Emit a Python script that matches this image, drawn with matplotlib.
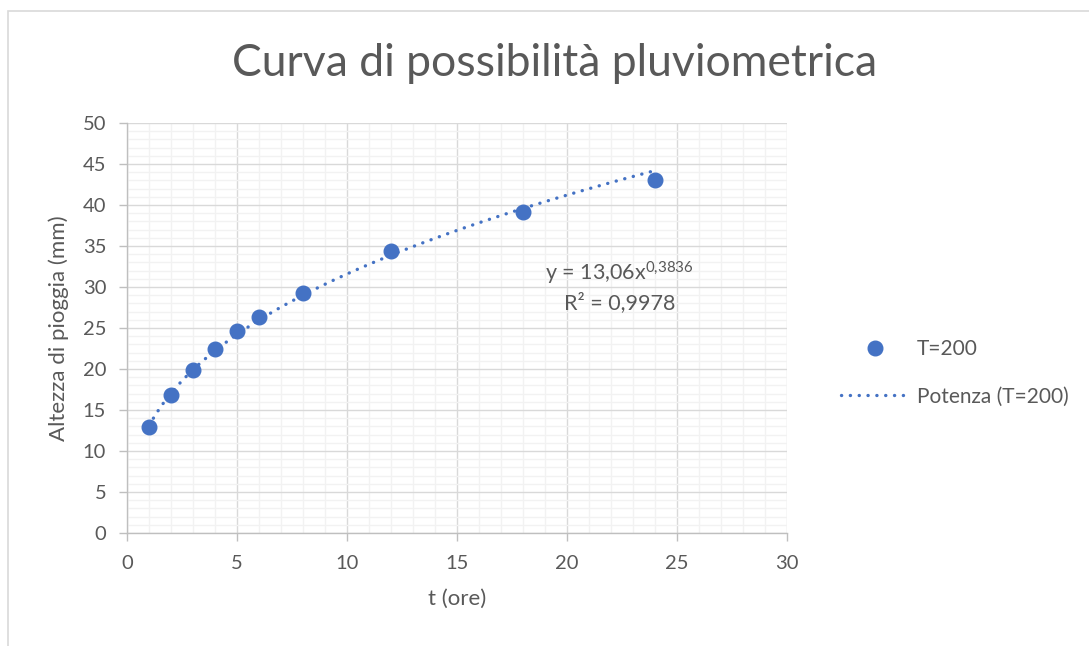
import matplotlib

matplotlib.use("Agg")

import matplotlib.pyplot as plt
import numpy as np
from matplotlib.patches import Rectangle
from matplotlib.ticker import MultipleLocator

# Durata (ore) e altezza di pioggia (mm) per tempo di ritorno T=200
durata = [1, 2, 3, 4, 5, 6, 8, 12, 18, 24]
altezza = [12.95, 16.8, 19.85, 22.4, 24.6, 26.3, 29.25, 34.4, 39.2, 43.05]

# Coefficienti della linea di tendenza di potenza y = a * x^n
coeff_a = 13.06
coeff_n = 0.3836
r_quadro = 0.9978

serie = "T=200"
titolo = "Curva di possibilità pluviometrica"

BLU = "#4472C4"
TESTO = "#595959"
FONT = "Lato"

plt.rcParams["font.family"] = [FONT, "DejaVu Sans"]
plt.rcParams["mathtext.fontset"] = "custom"
plt.rcParams["mathtext.rm"] = FONT
plt.rcParams["mathtext.it"] = FONT

fig = plt.figure(figsize=(10.89, 6.46), dpi=100)
# cornice del grafico
fig.patches.append(Rectangle((8 / 1089, -0.1), 1.2, 1 - 11 / 646 + 0.1,
                             transform=fig.transFigure, fill=False,
                             edgecolor="#d9d9d9", lw=1.2))

ax = fig.add_axes([127 / 1089, 113 / 646, 660 / 1089, 410 / 646])

ax.set_xlim(0, 30)
ax.set_ylim(0, 50)
ax.xaxis.set_major_locator(MultipleLocator(5))
ax.xaxis.set_minor_locator(MultipleLocator(1))
ax.yaxis.set_major_locator(MultipleLocator(5))
ax.yaxis.set_minor_locator(MultipleLocator(1))
ax.grid(which="minor", color="#f2f2f2", lw=1.0, zorder=0)
ax.grid(which="major", color="#d9d9d9", lw=1.0, zorder=0)
ax.set_axisbelow(True)

for side in ("top", "right"):
    ax.spines[side].set_visible(False)
for side in ("left", "bottom"):
    ax.spines[side].set_color("#bfbfbf")
    ax.spines[side].set_linewidth(1.0)

ax.tick_params(which="major", length=6, width=1.0, color="#bfbfbf",
               labelsize=14.5, labelcolor=TESTO)
ax.tick_params(axis="x", which="major", pad=10)
ax.tick_params(axis="y", which="major", pad=9)
ax.tick_params(which="minor", length=0)

# linea di tendenza di potenza
xt = np.linspace(min(durata), max(durata), 300)
yt = coeff_a * xt ** coeff_n
trend, = ax.plot(xt, yt, color=BLU, lw=2.4, linestyle=(0, (0.05, 2.6)),
                 dash_capstyle="round", zorder=3, label=f"Potenza ({serie})")

punti, = ax.plot(durata, altezza, "o", color=BLU, ms=10.5, mec=BLU,
                 zorder=4, label=serie)

ax.set_xlabel("t (ore)", fontsize=16, color=TESTO, labelpad=12)
ax.set_ylabel("Altezza di pioggia (mm)", fontsize=16, color=TESTO, labelpad=10)

fig.text(555 / 1089, 1 - 63 / 646, titolo, fontsize=32, color=TESTO,
         ha="center", va="center")

# equazione e R² della linea di tendenza
fmt = lambda v, d: f"{v:.{d}f}".replace(".", "{,}")
ax.text(19.0, 31.7, f"y = 13,06x$^{{\\mathregular{{{fmt(coeff_n, 4)}}}}}$",
        fontsize=15.5, color=TESTO, ha="left", va="center")
ax.text(22.4, 28.05, f"R² = {fmt(r_quadro, 4).replace('{,}', ',')}",
        fontsize=15.5, color=TESTO, ha="center", va="center")

ax.legend(handles=[punti, trend], loc="center left",
          bbox_to_anchor=(841 / 1089, 1 - 373 / 646),
          bbox_transform=fig.transFigure, frameon=False, fontsize=15,
          labelcolor=TESTO, handlelength=3.27, handletextpad=0.38,
          labelspacing=1.3, borderpad=0, borderaxespad=0)

fig.savefig("out.png", dpi=100, facecolor="white")
